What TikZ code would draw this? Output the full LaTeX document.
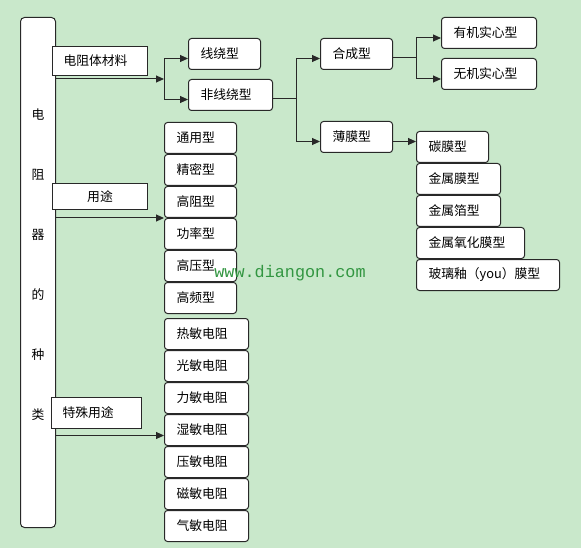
\documentclass[tikz,border=0pt]{standalone}
\usepackage{fontspec}
\newfontfamily\cjk{Noto Sans CJK SC}
\newfontfamily\markfont{Liberation Mono}
\usepackage{tikz}
\usetikzlibrary{arrows.meta,positioning,calc}
\definecolor{bggreen}{RGB}{201,232,203}
\definecolor{edge}{RGB}{40,40,40}
\definecolor{markgreen}{RGB}{50,150,65}

\begin{document}
\begin{tikzpicture}[
        x=1pt,y=-1pt,
        font=\cjk\fontsize{12.8}{15}\selectfont,
        >={Triangle[length=8pt,width=7pt]},
        line/.style={draw=edge,line width=1pt},
        box/.style={draw=edge,line width=1pt,fill=white,rounded corners=3pt,minimum height=31pt,inner xsep=12pt,inner ysep=0pt,text width=#1,align=left,anchor=north west},
        tag/.style={draw=edge,line width=1pt,fill=white,minimum height=29pt,inner xsep=11pt,inner ysep=0pt,text width=#1,align=left,anchor=north west},
        stack/.style={below=0pt of #1.south west,anchor=north west}
    ]
        \fill[bggreen] (0,0) rectangle (581,548);
        \useasboundingbox (0,0) rectangle (581,548);

        % left column
        \node[draw=edge,line width=1pt,fill=white,rounded corners=4pt,minimum width=35pt,minimum height=510pt,anchor=north west,
              label={[font=\cjk\fontsize{12.8}{60}\selectfont,align=center,yshift=7.5pt]center:电\\阻\\器\\的\\种\\类}] (kind) at (20,17) {};
        \node[tag=73pt] (mat) at (52,46) {电阻体材料};
        \node[tag=73pt,minimum height=26pt,align=center] (use) at (52,183) {用途};
        \node[tag=68pt,minimum height=31pt] (spec) at (51,397) {特殊用途};

        % by material
        \node[box=48pt] (wire) at (188,38) {线绕型};
        \node[box=60pt] (nonwire) at (188,79) {非线绕型};
        \node[box=48pt] (comp) at (320,38) {合成型};
        \node[box=48pt] (film) at (320,121) {薄膜型};
        \node[box=71pt] (org) at (441,17) {有机实心型};
        \node[box=71pt] (inorg) at (441,58) {无机实心型};
        \node[box=48pt] (carbon) at (416,131) {碳膜型};
        \node[box=60pt,stack=carbon] (metal) {金属膜型};
        \node[box=60pt,stack=metal] (foil) {金属箔型};
        \node[box=84pt,stack=foil] (oxide) {金属氧化膜型};
        \node[box=119pt,stack=oxide] (glaze) {玻璃釉（you）膜型};

        % by use
        \node[box=48pt] (general) at (164,122) {通用型};
        \node[box=48pt,stack=general] (precise) {精密型};
        \node[box=48pt,stack=precise] (hires) {高阻型};
        \node[box=48pt,stack=hires] (power) {功率型};
        \node[box=48pt,stack=power] (hivolt) {高压型};
        \node[box=48pt,stack=hivolt] (hifreq) {高频型};

        % special use
        \node[box=60pt] (thermal) at (164,318) {热敏电阻};
        \node[box=60pt,stack=thermal] (photo) {光敏电阻};
        \node[box=60pt,stack=photo] (force) {力敏电阻};
        \node[box=60pt,stack=force] (humid) {湿敏电阻};
        \node[box=60pt,stack=humid] (press) {压敏电阻};
        \node[box=60pt,stack=press] (magnet) {磁敏电阻};
        \node[box=60pt,stack=magnet] (gas) {气敏电阻};

        % junctions
        \coordinate (j1) at (164,79);
        \coordinate (j2) at (296,99);
        \coordinate (j3) at (416,58);
        \coordinate (j5) at ([yshift=-5.5pt]humid.west);

        \draw[line,->] (kind.east |- j1) -- (j1);
        \draw[line,->] (j1) |- ([yshift=-4.5pt]wire.west);
        \draw[line,->] (j1) |- ([yshift=-4.5pt]nonwire.west);
        \draw[line] (nonwire.east |- j2) -- (j2);
        \draw[line,->] (j2) |- ([yshift=-4.5pt]comp.west);
        \draw[line,->] (j2) |- ([yshift=-4.5pt]film.west);
        \draw[line] (comp.east |- j3) -- (j3);
        \draw[line,->] (j3) |- ([yshift=-5pt]org.west);
        \draw[line,->] (j3) |- ([yshift=-5pt]inorg.west);
        \draw[line,->] ([yshift=-4.5pt]film.east) -- ([yshift=5.5pt]carbon.west);
        \draw[line,->] (kind.east |- hires.south west) -- (hires.south west);
        \draw[line,->] (kind.east |- j5) -- (j5);

        \node[font=\markfont\fontsize{16.8}{18}\selectfont,text=markgreen,inner sep=0pt] (mark) at (290,273) {www.diangon.com};
    \end{tikzpicture}
\end{document}
